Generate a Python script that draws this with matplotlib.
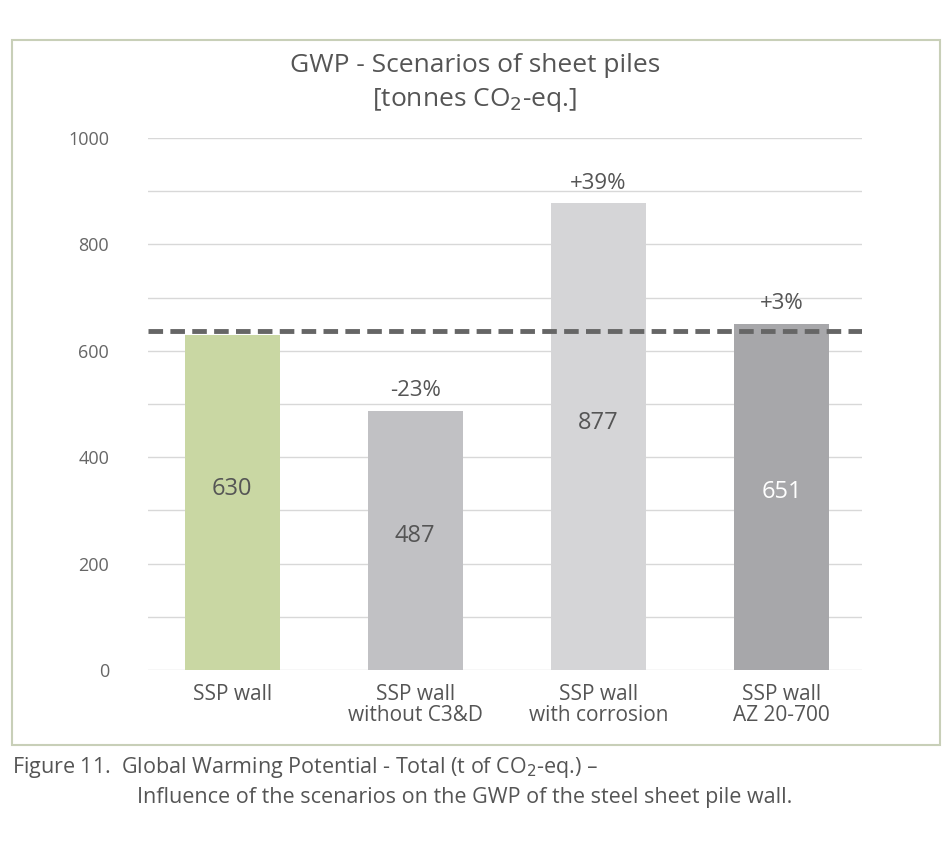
import matplotlib.pyplot as plt
from matplotlib.patches import Rectangle

plt.rcParams['font.family'] = ['Open Sans', 'DejaVu Sans']

categories = ["SSP wall", "SSP wall\nwithout C3&D", "SSP wall\nwith corrosion", "SSP wall\nAZ 20-700"]
values = [630, 487, 877, 651]
changes = ["", "-23%", "+39%", "+3%"]
colors = ["#c9d7a3", "#c1c1c4", "#d5d5d7", "#a7a7aa"]
label_colors = ["#555555", "#555555", "#555555", "white"]
label_y = [340, 252, 464, 335]
baseline = 638

fig = plt.figure(figsize=(9.5, 8.5), dpi=100)
fig.patches.append(Rectangle((12/950, 1-745/850), 928/950, 705/850, transform=fig.transFigure,
                             fill=False, edgecolor="#c8cfb8", linewidth=1.5))
ax = fig.add_axes([148/950, 1-670/850, 714/950, 532/850])

x = range(len(values))
ax.bar(x, values, width=0.52, color=colors, zorder=2)
for i, v in enumerate(values):
    ax.text(i, label_y[i], str(v), ha='center', va='center', fontsize=17, color=label_colors[i], zorder=3)
    if changes[i]:
        ax.text(i, v + 18, changes[i], ha='center', va='bottom', fontsize=16, color="#555555")
ax.axhline(baseline, color="#666666", linestyle=(0, (3, 1.5)), linewidth=3.5, zorder=4)

ax.set_xlim(-0.46, 3.44)
ax.set_ylim(0, 1000)
ax.set_yticks(range(0, 1001, 200))
ax.set_yticks(range(0, 1001, 100), minor=True)
ax.grid(axis='y', which='both', color="#d8d8d8", linewidth=1, zorder=0)
ax.tick_params(axis='y', which='both', length=0, labelsize=13, labelcolor="#666666", pad=28)
ax.set_xticks(list(x))
ax.set_xticklabels(categories, fontsize=15, color="#555555", linespacing=1.0)
ax.tick_params(axis='x', length=0, pad=10)
for s in ax.spines.values():
    s.set_visible(False)

fig.text(0.5, 1-65/850, "GWP - Scenarios of sheet piles", ha='center', va='center', fontsize=19, color="#555555")
fig.text(0.5, 1-100/850, "[tonnes CO$_2$-eq.]", ha='center', va='center', fontsize=19, color="#555555")
fig.text(12/950, 1-768/850, "Figure 11.  Global Warming Potential - Total (t of CO$_2$-eq.) \u2013",
         ha='left', va='center', fontsize=15.5, color="#555555")
fig.text(137/950, 1-798/850, "Influence of the scenarios on the GWP of the steel sheet pile wall.",
         ha='left', va='center', fontsize=15.5, color="#555555")

fig.savefig("out.png", dpi=100)
